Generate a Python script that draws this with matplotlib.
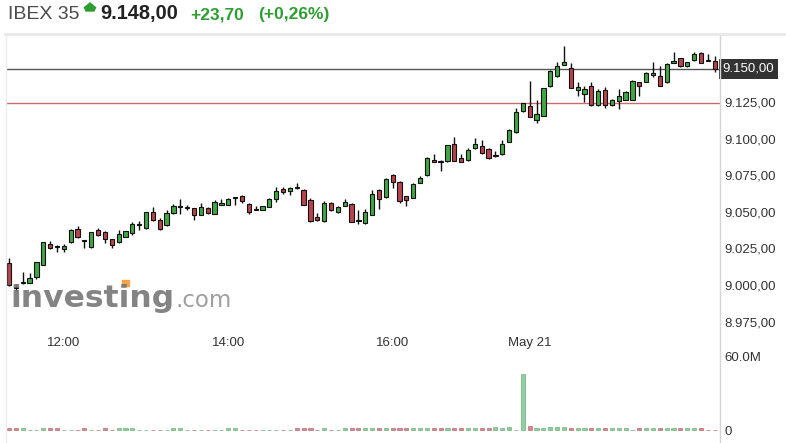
import matplotlib
matplotlib.use("Agg")
import matplotlib.pyplot as plt
from matplotlib.lines import Line2D
from matplotlib.patches import Polygon, Rectangle
from matplotlib.transforms import blended_transform_factory
import numpy as np

plt.rcParams['font.family'] = ['Liberation Sans', 'DejaVu Sans']

# 5-minute candles (index = candle number)
opens = [9015.3, 8998.5, 9001.5, 9001.6, 9005.3, 9013.7, 9028.2, 9026.5, 9024.7, 9029.1,
         9038.3, 9030.2, 9026.3, 9037.3, 9035.9, 9031.4, 9029.1, 9032.8, 9035.5, 9041.2,
         9038.7, 9049.7, 9044.2, 9041.0, 9049.3, 9053.2, 9052.9, 9052.7, 9048.1, 9052.7,
         9048.8, 9054.8, 9054.8, 9059.5, 9061.2, 9055.4, 9052.0, 9051.1, 9053.2, 9058.9,
         9065.7, 9064.6, 9066.9, 9065.3, 9057.9, 9046.5, 9043.5, 9056.2, 9049.7, 9054.3,
         9055.7, 9044.6, 9042.4, 9048.1, 9064.8, 9060.3, 9074.9, 9070.3, 9060.7, 9059.6,
         9069.9, 9074.9, 9085.2, 9085.0, 9084.7, 9096.2, 9087.1, 9085.2, 9093.5, 9095.0,
         9093.2, 9087.9, 9089.3, 9097.8, 9104.7, 9118.7, 9122.5, 9113.0, 9115.7, 9135.9,
         9142.7, 9150.7, 9148.3, 9133.3, 9130.6, 9136.3, 9123.2, 9133.3, 9123.2, 9125.6,
         9126.6, 9126.6, 9138.6, 9139.0, 9143.4, 9142.7, 9138.6, 9151.9, 9155.3, 9150.0,
         9153.9, 9158.7, 9153.9, 9153.4]
highs = [9018.3, 9001.0, 9008.7, 9008.5, 9016.0, 9029.5, 9030.2, 9027.5, 9028.2, 9038.5,
         9040.5, 9030.4, 9036.4, 9039.0, 9036.6, 9031.6, 9037.8, 9037.0, 9042.8, 9044.0,
         9050.2, 9053.4, 9045.6, 9051.5, 9055.7, 9058.9, 9054.8, 9052.7, 9056.2, 9053.1,
         9057.9, 9058.9, 9059.2, 9060.0, 9061.8, 9056.1, 9053.8, 9054.3, 9059.2, 9067.2,
         9066.9, 9067.2, 9069.9, 9065.5, 9059.6, 9049.3, 9057.3, 9056.7, 9053.8, 9058.9,
         9056.3, 9051.5, 9052.0, 9065.3, 9065.8, 9073.3, 9075.6, 9071.0, 9061.2, 9069.5,
         9074.4, 9087.3, 9089.3, 9085.3, 9096.0, 9101.5, 9089.3, 9094.0, 9100.8, 9099.0,
         9094.0, 9091.6, 9099.0, 9106.8, 9121.4, 9124.7, 9139.7, 9126.7, 9134.7, 9147.0,
         9152.4, 9163.8, 9151.7, 9139.0, 9136.3, 9139.0, 9134.4, 9135.2, 9127.3, 9134.0,
         9133.0, 9140.4, 9138.6, 9146.0, 9152.8, 9150.0, 9152.0, 9159.2, 9155.5, 9152.5,
         9159.2, 9159.2, 9158.0, 9156.9]
lows = [8999.0, 8996.0, 9001.0, 9001.2, 9003.9, 9013.5, 9024.5, 9022.5, 9022.5, 9028.9,
        9032.3, 9025.2, 9025.4, 9033.7, 9028.7, 9025.2, 9028.7, 9032.5, 9034.4, 9037.8,
        9038.5, 9044.0, 9037.3, 9040.5, 9048.8, 9048.8, 9051.5, 9044.7, 9047.6, 9048.8,
        9048.6, 9054.8, 9054.6, 9055.0, 9056.2, 9048.8, 9051.1, 9051.0, 9053.0, 9056.5,
        9062.5, 9061.8, 9065.9, 9054.7, 9043.1, 9044.0, 9043.1, 9050.8, 9049.3, 9053.8,
        9042.8, 9041.9, 9041.9, 9047.6, 9052.2, 9059.6, 9066.0, 9056.2, 9053.8, 9059.3,
        9069.5, 9074.7, 9084.0, 9077.9, 9084.4, 9084.5, 9084.0, 9084.7, 9093.2, 9089.3,
        9085.9, 9087.5, 9088.9, 9097.6, 9104.3, 9118.4, 9114.6, 9110.6, 9115.3, 9135.6,
        9142.0, 9150.5, 9134.5, 9129.0, 9124.9, 9122.5, 9122.5, 9121.4, 9122.5, 9120.3,
        9126.2, 9126.4, 9129.4, 9138.6, 9142.0, 9136.3, 9138.0, 9151.8, 9149.3, 9149.2,
        9153.5, 9151.6, 9153.0, 9145.5]
closes = [9000.0, 8998.0, 9001.7, 9004.6, 9015.6, 9029.3, 9025.2, 9026.3, 9026.8, 9037.3,
          9032.8, 9029.9, 9036.2, 9034.4, 9031.4, 9027.5, 9034.8, 9036.6, 9041.7, 9041.5,
          9050.2, 9044.2, 9038.3, 9049.3, 9053.8, 9053.8, 9053.2, 9048.1, 9053.1, 9049.3,
          9056.6, 9056.2, 9058.9, 9059.9, 9057.3, 9049.7, 9051.5, 9054.3, 9058.9, 9064.3,
          9063.4, 9066.4, 9066.0, 9055.0, 9043.5, 9044.2, 9056.2, 9051.5, 9053.4, 9056.8,
          9043.1, 9044.0, 9049.7, 9062.3, 9059.1, 9072.6, 9070.3, 9057.3, 9058.4, 9069.2,
          9073.3, 9087.1, 9084.1, 9084.4, 9095.5, 9084.7, 9084.3, 9092.1, 9096.7, 9090.0,
          9086.6, 9088.6, 9096.2, 9106.0, 9118.0, 9124.2, 9115.2, 9116.8, 9134.5, 9146.2,
          9149.6, 9152.8, 9134.7, 9135.2, 9134.0, 9123.0, 9132.8, 9123.2, 9126.5, 9129.4,
          9132.2, 9139.7, 9136.3, 9145.0, 9144.8, 9136.3, 9151.2, 9153.4, 9149.6, 9152.4,
          9158.0, 9151.9, 9153.0, 9147.8]
# volume in millions (0 = no bar)
volumes = [1.5, 1.5, 1.5, 0, 0, 1.5, 1.5, 1.5, 0, 0,
           0, 1.5, 0, 0, 1.5, 0, 1.5, 1.5, 1.5, 0,
           0, 0, 0, 0, 1.5, 1.5, 0, 0, 0, 0,
           0, 0, 1.5, 1.5, 0, 0, 0, 0, 0, 0,
           0, 0, 1.5, 1.5, 1.5, 0, 1.5, 0, 0, 1.5,
           1.5, 1.5, 1.5, 1.5, 1.5, 1.5, 1.5, 1.5, 1.5, 1.5,
           1.5, 1.5, 1.5, 1.5, 1.5, 1.5, 1.5, 1.5, 1.5, 1.5,
           1.5, 2.4, 1.8, 2.6, 0, 46.0, 3.6, 1.5, 2.0, 2.4,
           2.4, 2.4, 1.5, 1.5, 1.5, 1.5, 1.5, 1.5, 1.5, 1.5,
           1.5, 0, 1.5, 1.5, 1.5, 1.5, 1.5, 1.5, 1.5, 1.5,
           1.5, 1.5, 0, 0]

time_ticks = [8, 32, 56, 76]
time_labels = ['12:00', '14:00', '16:00', 'May 21']
price_ticks = [8975, 9000, 9025, 9050, 9075, 9100, 9125]
last_price = 9148.0
prev_close = 9124.3

W, H = 786, 443
fig = plt.figure(figsize=(W / 100, H / 100), dpi=100)

def px(x0, y0, x1, y1):
    return [x0 / W, 1 - y1 / H, (x1 - x0) / W, (y1 - y0) / H]

ax = fig.add_axes(px(6, 35, 720, 330))
axv = fig.add_axes(px(6, 350, 720, 436))

idx = np.arange(len(opens))
o = np.array(opens); c = np.array(closes)
up = c >= o
green, red = '#3fa845', '#b8434c'
cols = np.where(up, green, red)

ax.vlines(idx, lows, highs, color='#111111', lw=1, zorder=3)
body = np.maximum(np.abs(c - o), 0.6)
ax.bar(idx, body, bottom=np.minimum(o, c), width=0.62, color=cols,
       edgecolor='#111111', linewidth=0.8, zorder=4)

ax.axhline(last_price, color='#555555', lw=1, zorder=2)
ax.axhline(prev_close, color='#cc6b6b', lw=1, zorder=2)

ax.set_xlim(-0.44, 103.78)
ax.set_ylim(8969.2, 9171.0)
ax.yaxis.tick_right()
ax.set_yticks(price_ticks)
ax.set_yticklabels([f"{p:,.2f}".replace(',', 'X').replace('.', ',').replace('X', '.') for p in price_ticks])
ax.set_xticks(time_ticks)
ax.set_xticklabels(time_labels)
ax.tick_params(axis='both', length=0, labelsize=9.5, colors='#333333')
ax.tick_params(axis='y', pad=3)
ax.tick_params(axis='x', pad=5)
for s in ax.spines.values():
    s.set_visible(False)

tr = blended_transform_factory(ax.transAxes, ax.transData)
ax.text(1.004, last_price, '9.150,00', transform=tr, ha='left', va='center',
        fontsize=9.5, color='white',
        bbox=dict(boxstyle='square,pad=0.3', fc='#333333', ec='none'))

# watermark
fig.text(10 / W, 1 - 307 / H, 'investing', fontsize=22.6, fontweight='bold',
         family='DejaVu Sans', color='#777777', alpha=0.9, va='baseline', zorder=1)
fig.text(175 / W, 1 - 307 / H, '.com', fontsize=16.5, family='DejaVu Sans',
         color='#a0a0a0', va='baseline', zorder=1)
fig.add_artist(Rectangle((122 / W, 1 - 286 / H), 7 / W, 6 / H, color='#f5a547',
                         transform=fig.transFigure, zorder=1))

# volume
v = np.array(volumes)
vcols = np.where(up, '#8fcf9c', '#d48a92')
vedge = np.where(up, '#6fb07c', '#b86a72')
axv.bar(idx, v, width=0.6, color=vcols, edgecolor=vedge, linewidth=0.5)
axv.set_xlim(-0.44, 103.78)
axv.set_ylim(-4.93, 65.75)
axv.yaxis.tick_right()
axv.set_yticks([0, 60])
axv.set_yticklabels(['0', '60.0M'])
axv.set_xticks([])
axv.tick_params(axis='y', length=0, labelsize=9.5, colors='#333333', pad=3)
for s in axv.spines.values():
    s.set_visible(False)

# frame lines
fig.add_artist(Line2D([720 / W, 720 / W], [0, 1 - 35 / H], color='#d6d6d6', lw=1))
fig.add_artist(Line2D([6 / W, 6 / W], [0, 1 - 35 / H], color='#ececec', lw=1))
fig.add_artist(Line2D([5 / W, 1], [1 - 34 / H, 1 - 34 / H], color='#e8e8e8', lw=2))

# header
fig.text(8 / W, 1 - 19 / H, 'IBEX 35', fontsize=14, color='#4a4a4a', va='baseline')
fig.add_artist(Polygon([(90 / W, 1 - 3 / H), (95.5 / W, 1 - 7.5 / H), (94 / W, 1 - 11 / H),
                        (86 / W, 1 - 11 / H), (84.5 / W, 1 - 7.5 / H)],
                       closed=True, color='#2e9e33', transform=fig.transFigure))
fig.text(100 / W, 1 - 19 / H, '9.148,00', fontsize=14.4, fontweight='bold',
         color='#222222', va='baseline')
fig.text(190 / W, 1 - 19 / H, '+23,70', fontsize=12.5, fontweight='bold',
         color='#2e9e33', va='baseline')
fig.text(258 / W, 1 - 19 / H, '(+0,26%)', fontsize=12.5, fontweight='bold',
         color='#2e9e33', va='baseline')

fig.savefig('out.png', dpi=100)
